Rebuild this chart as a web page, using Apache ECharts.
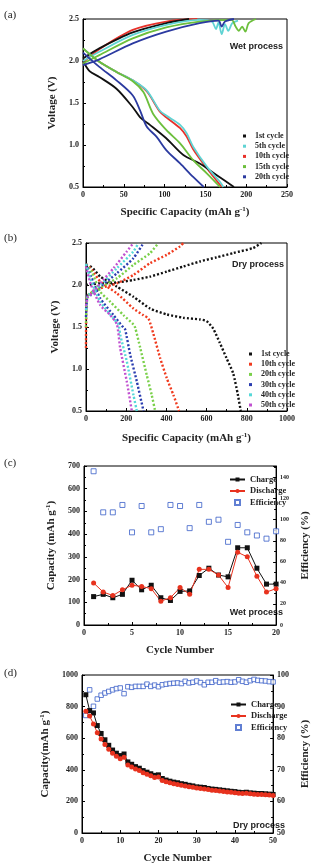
<!DOCTYPE html>
<html>
<head>
<meta charset="utf-8">
<script src="https://cdn.jsdelivr.net/npm/echarts@6/dist/echarts.min.js"></script>
<style>
  html, body { margin: 0; padding: 0; background: #fff; }
  #main { width: 319px; height: 865px; }
</style>
</head>
<body>
<div id="main"></div>
<script>
// ---- (a) wet process, voltage profiles [capacity, voltage]
const aNames = ['1st cycle', '5th cycle', '10th cycle', '15th cycle', '20th cycle'];
const aColors = ['#111111', '#5fd3d3', '#e8312a', '#6cbf3c', '#2b3aa0'];
const aCharge = [
  [[0, 2.03], [20, 2.15], [61, 2.34], [102, 2.45], [130, 2.5]],
  [[0, 2.0], [20, 2.11], [61, 2.31], [102, 2.43], [143, 2.49], [158, 2.47], [163, 2.38], [166, 2.46], [170, 2.32], [174, 2.44], [178, 2.36], [183, 2.45], [190, 2.48]],
  [[0, 1.98], [20, 2.14], [61, 2.37], [102, 2.47], [140, 2.5]],
  [[0, 1.97], [20, 2.07], [61, 2.27], [102, 2.4], [143, 2.47], [182, 2.49], [187, 2.41], [191, 2.36], [195, 2.41], [199, 2.35], [203, 2.45], [212, 2.5]],
  [[0, 1.95], [20, 2.02], [61, 2.21], [102, 2.35], [143, 2.45], [166, 2.48], [170, 2.41], [174, 2.47], [185, 2.5]]
];
const aDischarge = [
  [[0, 2.0], [8, 1.88], [20, 1.81], [41, 1.67], [61, 1.45], [70, 1.33], [82, 1.24], [102, 1.08], [123, 0.88], [143, 0.78], [164, 0.64], [185, 0.5]],
  [[0, 2.15], [20, 1.99], [41, 1.87], [61, 1.77], [78, 1.65], [94, 1.41], [102, 1.35], [119, 1.24], [127, 1.14], [135, 0.98], [152, 0.74], [168, 0.56], [172, 0.5]],
  [[0, 2.15], [20, 1.99], [41, 1.87], [61, 1.77], [78, 1.64], [94, 1.40], [102, 1.33], [119, 1.2], [127, 1.1], [135, 0.95], [152, 0.72], [170, 0.5]],
  [[0, 2.15], [20, 1.99], [41, 1.87], [61, 1.76], [74, 1.63], [86, 1.37], [102, 1.18], [119, 1.02], [135, 0.82], [152, 0.66], [168, 0.5]],
  [[0, 2.1], [20, 1.93], [41, 1.77], [61, 1.59], [70, 1.41], [78, 1.22], [90, 1.1], [102, 0.94], [119, 0.78], [135, 0.62], [148, 0.5]]
];

// ---- (b) dry process, voltage profiles [capacity, voltage]
const bNames = ['1st cycle', '10th cycle', '20th cycle', '30th cycle', '40th cycle', '50th cycle'];
const bColors = ['#111111', '#f03a1e', '#7ad04a', '#2a3db0', '#55d8d8', '#c050d0'];
const bCharge = [
  [[0, 2.0], [71, 2.02], [154, 2.03], [236, 2.06], [319, 2.1], [402, 2.16], [484, 2.22], [567, 2.28], [650, 2.33], [732, 2.38], [831, 2.44], [873, 2.5]],
  [[0, 1.25], [2, 1.8], [10, 1.88], [40, 1.92], [71, 1.96], [154, 2.02], [236, 2.12], [319, 2.26], [402, 2.36], [468, 2.46], [484, 2.5]],
  [[0, 1.5], [5, 1.85], [20, 1.9], [71, 1.97], [154, 2.08], [236, 2.24], [319, 2.38], [360, 2.5]],
  [[0, 1.62], [8, 1.88], [25, 1.88], [71, 1.98], [154, 2.14], [236, 2.32], [286, 2.5]],
  [[0, 1.7], [10, 1.88], [30, 1.9], [71, 2.0], [154, 2.2], [236, 2.4], [261, 2.5]],
  [[0, 1.75], [10, 1.86], [30, 1.9], [71, 2.02], [137, 2.2], [203, 2.4], [236, 2.5]]
];
const bDischarge = [
  [[0, 2.22], [21, 2.22], [71, 2.1], [154, 1.98], [236, 1.86], [319, 1.72], [402, 1.65], [484, 1.61], [567, 1.59], [600, 1.57], [633, 1.48], [666, 1.31], [699, 1.13], [732, 0.95], [755, 0.7], [770, 0.5]],
  [[0, 2.25], [30, 2.18], [71, 2.04], [154, 1.9], [236, 1.72], [286, 1.64], [311, 1.6], [335, 1.42], [369, 1.13], [402, 0.89], [435, 0.69], [463, 0.5]],
  [[0, 2.25], [30, 2.15], [71, 1.92], [121, 1.8], [187, 1.64], [236, 1.53], [245, 1.49], [270, 1.25], [302, 0.93], [327, 0.69], [344, 0.5]],
  [[0, 2.25], [25, 2.1], [71, 1.84], [137, 1.64], [187, 1.49], [195, 1.47], [220, 1.17], [253, 0.85], [286, 0.5]],
  [[0, 2.25], [25, 2.05], [71, 1.8], [137, 1.6], [162, 1.53], [170, 1.41], [203, 1.09], [236, 0.69], [253, 0.5]],
  [[0, 2.22], [25, 2.0], [71, 1.76], [121, 1.64], [154, 1.53], [170, 1.25], [203, 0.85], [228, 0.5]]
];

// ---- (c) wet process cycling
const cCycles = [1, 2, 3, 4, 5, 6, 7, 8, 9, 10, 11, 12, 13, 14, 15, 16, 17, 18, 19, 20];
const cCharge = [125, 135, 120, 135, 197, 155, 175, 120, 108, 148, 150, 218, 250, 220, 212, 340, 340, 250, 180, 180];
const cDischarge = [185, 145, 130, 155, 175, 170, 160, 105, 120, 165, 135, 245, 245, 220, 165, 320, 300, 215, 145, 160];
const cEfficiency = [146, 107, 107, 114, 88, 113, 88, 91, 114, 113, 92, 114, 98, 100, 79, 95, 88, 85, 82, 89];

// ---- (d) dry process cycling
const dCycles = [];
for (let i = 1; i <= 50; i++) dCycles.push(i);
const dCharge = [875, 775, 760, 680, 630, 590, 555, 525, 505, 490, 500, 450, 435, 420, 410, 395, 385, 375, 365, 368,
  345, 335, 328, 322, 318, 312, 308, 302, 298, 292, 290, 288, 282, 278, 276, 273, 270, 267, 264, 262,
  258, 256, 258, 254, 252, 250, 250, 248, 246, 244];
const dDischarge = [770, 740, 690, 635, 595, 560, 530, 505, 485, 470, 480, 430, 418, 405, 395, 382, 372, 362, 352, 355,
  333, 325, 318, 312, 307, 303, 298, 293, 289, 285, 282, 279, 275, 271, 269, 266, 263, 260, 258, 255,
  252, 250, 251, 248, 246, 244, 243, 242, 240, 238];
const dEfficiency = [87.2, 95.3, 90.1, 92.4, 93.6, 94.3, 94.8, 95.3, 95.7, 95.9, 94.1, 96.3, 96.1, 96.4, 96.4, 96.4, 97.1, 96.4, 96.8, 96.3,
  96.9, 97.1, 97.3, 97.4, 97.5, 97.3, 98.0, 97.5, 97.7, 98.1, 97.6, 96.9, 97.7, 97.7, 98.2, 97.7, 97.8, 97.9, 97.7, 97.8,
  98.5, 98.0, 97.7, 98.2, 98.6, 98.3, 98.2, 98.1, 97.9, 97.8];

const SERIF = '"Liberation Serif", "DejaVu Serif", serif';
const SANS = '"Liberation Sans", Arial, sans-serif';
const SQUARE = 'path://M0,0L10,0L10,10L0,10Z';

function label(o) {
  return Object.assign({ fontFamily: SERIF, fontWeight: 'bold', fontSize: 8, color: '#222', margin: 4,
    formatter: function (v) { return String(v); } }, o);
}

function axis(o) {
  return Object.assign({
    type: 'value',
    splitLine: { show: false },
    axisLine: { show: true, onZero: false, lineStyle: { color: '#000', width: 1 } },
    axisTick: { show: true, inside: true, length: 3, lineStyle: { color: '#000' } },
    minorTick: { show: true, splitNumber: 2, length: 2, lineStyle: { color: '#000' } },
    axisLabel: label({}),
    nameLocation: 'middle',
    nameTextStyle: {
      fontFamily: SERIF, fontWeight: 'bold', fontSize: 11, color: '#222',
      rich: { sup: { fontFamily: SERIF, fontWeight: 'bold', fontSize: 7, color: '#222', padding: [0, 0, 6, 0] } }
    }
  }, o);
}

const v1 = function (v) { return v.toFixed(1); };

const series = [];
// (a) lines
[2, 0, 1, 3, 4].forEach(function (i) {
  [aCharge[i], aDischarge[i]].forEach(function (d) {
    series.push({
      type: 'line', name: 'a:' + aNames[i], xAxisIndex: 0, yAxisIndex: 0,
      data: d, smooth: 0.3, showSymbol: false,
      lineStyle: { color: aColors[i], width: 1.8 }, itemStyle: { color: aColors[i] }
    });
  });
});
// (b) dotted curves
bNames.forEach(function (n, i) {
  [bCharge[i], bDischarge[i]].forEach(function (d) {
    series.push({
      type: 'line', name: 'b:' + n, xAxisIndex: 1, yAxisIndex: 1,
      data: d, smooth: 0.2, showSymbol: false,
      lineStyle: { color: bColors[i], width: 2.4, type: [2, 2] }, itemStyle: { color: bColors[i] }
    });
  });
});
// (c)
series.push({
  type: 'line', name: 'c:Charge', xAxisIndex: 2, yAxisIndex: 2,
  data: cCycles.map(function (c, i) { return [c, cCharge[i]]; }),
  symbol: 'rect', symbolSize: 5, lineStyle: { color: '#111', width: 1 }, itemStyle: { color: '#111' }
});
series.push({
  type: 'line', name: 'c:Discharge', xAxisIndex: 2, yAxisIndex: 2,
  data: cCycles.map(function (c, i) { return [c, cDischarge[i]]; }),
  symbol: 'circle', symbolSize: 5, lineStyle: { color: '#e8321e', width: 1 }, itemStyle: { color: '#e8321e' }
});
series.push({
  type: 'scatter', name: 'c:Efficiency', xAxisIndex: 2, yAxisIndex: 3,
  data: cCycles.map(function (c, i) { return [c, cEfficiency[i]]; }),
  symbol: 'rect', symbolSize: 5, itemStyle: { color: '#fff', borderColor: '#3a5fc8', borderWidth: 1 }
});
// (d)
series.push({
  type: 'line', name: 'd:Charge', xAxisIndex: 3, yAxisIndex: 4,
  data: dCycles.map(function (c, i) { return [c, dCharge[i]]; }),
  symbol: 'rect', symbolSize: 5, lineStyle: { color: '#111', width: 1 }, itemStyle: { color: '#111' }
});
series.push({
  type: 'line', name: 'd:Discharge', xAxisIndex: 3, yAxisIndex: 4,
  data: dCycles.map(function (c, i) { return [c, dDischarge[i]]; }),
  symbol: 'circle', symbolSize: 5, lineStyle: { color: '#e8321e', width: 1 }, itemStyle: { color: '#e8321e' }
});
series.push({
  type: 'scatter', name: 'd:Efficiency', xAxisIndex: 3, yAxisIndex: 5,
  data: dCycles.map(function (c, i) { return [c, dEfficiency[i]]; }),
  symbol: 'rect', symbolSize: 4.5, itemStyle: { color: '#fff', borderColor: '#3a5fc8', borderWidth: 1 }
});

const stripName = function (n) { return n.slice(2); };
const smallLegend = {
  orient: 'vertical', icon: 'rect', itemWidth: 3, itemHeight: 3, itemGap: 2.2,
  formatter: stripName,
  textStyle: { fontFamily: SERIF, fontWeight: 'bold', fontSize: 8, color: '#222', padding: [0, 0, 0, 4] }
};
const bigLegend = {
  orient: 'vertical', itemWidth: 15, itemHeight: 5, itemGap: 2.5,
  formatter: stripName,
  textStyle: { fontFamily: SERIF, fontWeight: 'bold', fontSize: 8.5, color: '#222' }
};
function bigData(p) {
  return [p + 'Charge', p + 'Discharge', { name: p + 'Efficiency', icon: SQUARE }];
}

const chart = echarts.init(document.getElementById('main'), null, { renderer: 'canvas' });
chart.setOption({
  animation: false,
  backgroundColor: '#fff',
  grid: [
    { left: 83, top: 19, width: 204, height: 168, show: true, borderColor: '#000', borderWidth: 1 },
    { left: 86, top: 243, width: 201, height: 168, show: true, borderColor: '#000', borderWidth: 1 },
    { left: 84, top: 466, width: 203, height: 159, show: true, borderColor: '#000', borderWidth: 1 },
    { left: 82, top: 675, width: 208, height: 159, show: true, borderColor: '#000', borderWidth: 1 }
  ],
  xAxis: [
    axis({ gridIndex: 0, min: 0, max: 250, interval: 50, name: 'Specific Capacity (mAh g{sup|-1})', nameGap: 19 }),
    axis({ gridIndex: 1, min: 0, max: 1000, interval: 200, name: 'Specific Capacity (mAh g{sup|-1})', nameGap: 21 }),
    axis({ gridIndex: 2, min: 0, max: 20, interval: 5, name: 'Cycle Number', nameGap: 20 }),
    axis({ gridIndex: 3, min: 0, max: 50, interval: 10, name: 'Cycle Number', nameGap: 20 })
  ],
  yAxis: [
    axis({ gridIndex: 0, min: 0.5, max: 2.5, interval: 0.5, name: 'Voltage (V)', nameGap: 20,
      axisLabel: label({ formatter: v1 }) }),
    axis({ gridIndex: 1, min: 0.5, max: 2.5, interval: 0.5, name: 'Voltage (V)', nameGap: 20,
      axisLabel: label({ formatter: v1 }) }),
    axis({ gridIndex: 2, min: 0, max: 700, interval: 100, name: 'Capacity (mAh g{sup|-1})', nameGap: 16 }),
    axis({ gridIndex: 2, position: 'right', min: 0, max: 151, interval: 20, name: 'Efficiency (%)', nameGap: 21,
      axisLabel: label({ fontSize: 6, showMaxLabel: false }) }),
    axis({ gridIndex: 3, min: 0, max: 1000, interval: 200, name: 'Capacity(mAh g{sup|-1})', nameGap: 18 }),
    axis({ gridIndex: 3, position: 'right', min: 50, max: 100, interval: 10, name: 'Efficiency (%)', nameGap: 17 })
  ],
  legend: [
    Object.assign({ left: 238, top: 127, data: aNames.map(function (n) { return 'a:' + n; }) }, smallLegend),
    Object.assign({ left: 244, top: 345, data: bNames.map(function (n) { return 'b:' + n; }) }, smallLegend),
    Object.assign({ left: 224, top: 470, data: bigData('c:') }, bigLegend),
    Object.assign({ left: 225, top: 695, data: bigData('d:') }, bigLegend)
  ],
  graphic: [
    { type: 'text', left: 4, top: 10, style: { text: '(a)', font: '11px ' + SERIF, fill: '#222' } },
    { type: 'text', left: 4, top: 233, style: { text: '(b)', font: '11px ' + SERIF, fill: '#222' } },
    { type: 'text', left: 4, top: 458, style: { text: '(c)', font: '11px ' + SERIF, fill: '#222' } },
    { type: 'text', left: 4, top: 668, style: { text: '(d)', font: '11px ' + SERIF, fill: '#222' } },
    { type: 'text', right: 36, top: 42, style: { text: 'Wet process', font: 'bold 9px ' + SANS, fill: '#222' } },
    { type: 'text', right: 35, top: 260, style: { text: 'Dry process', font: 'bold 9px ' + SANS, fill: '#222' } },
    { type: 'text', right: 36, top: 608, style: { text: 'Wet process', font: 'bold 9px ' + SANS, fill: '#222' } },
    { type: 'text', right: 34, top: 821, style: { text: 'Dry process', font: 'bold 9px ' + SANS, fill: '#222' } }
  ],
  series: series
});
</script>
</body>
</html>
